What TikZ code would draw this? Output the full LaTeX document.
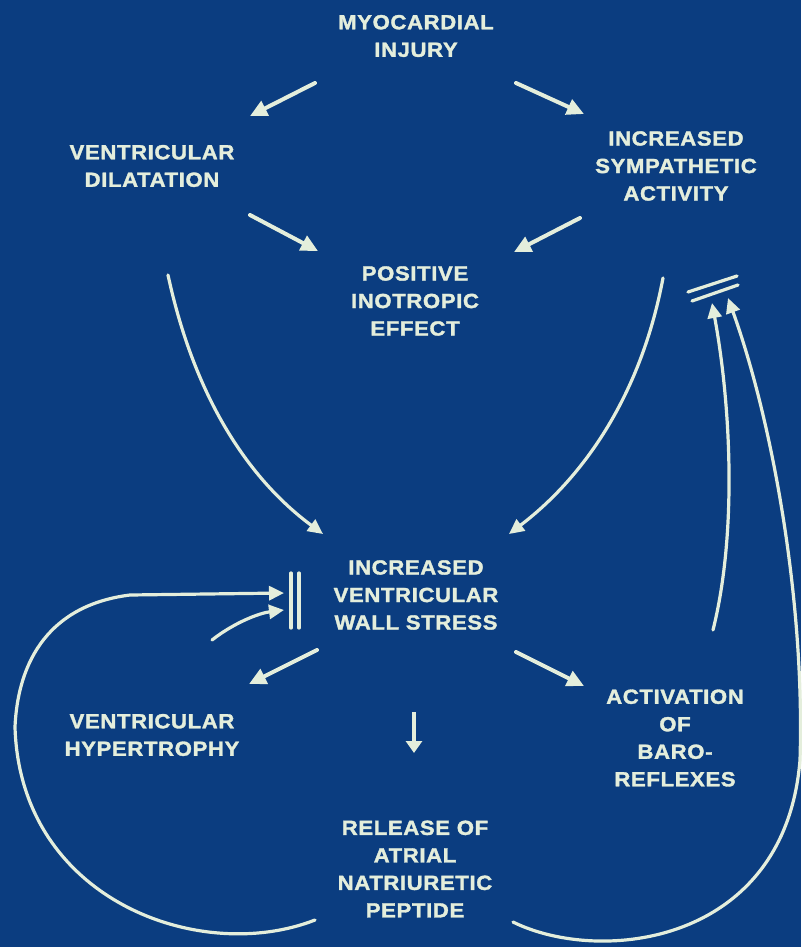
\documentclass[tikz,border=0pt]{standalone}
\usepackage{fontspec}
\setmainfont{Liberation Sans}[FakeStretch=1.08,LetterSpace=3,BoldFeatures={FakeBold=1.6}]
\usetikzlibrary{arrows.meta}
\definecolor{bgblue}{HTML}{0B3D80}
\definecolor{chalk}{HTML}{E4EEDC}
\tikzset{
  lbl/.style={text=chalk,font=\bfseries\fontsize{20.5}{27.5}\selectfont,align=center,inner sep=0pt},
  arr/.style={draw=chalk,line width=4pt,line cap=round,-{Triangle[length=17pt,width=16pt]}},
  curv/.style={draw=chalk,line width=3.2pt,line cap=round,-{Triangle[length=15pt,width=14pt]}},
  bar/.style={draw=chalk,line width=3.2pt,line cap=round}
}
\begin{document}
\begin{tikzpicture}[x=1pt,y=-1pt]
\fill[bgblue] (0,0) rectangle (801,947);
\useasboundingbox (0,0) rectangle (801,947);

% nodes
\node[lbl] (mi)   at (416,36)  {MYOCARDIAL\\INJURY};
\node[lbl] (vd)   at (152,166) {VENTRICULAR\\DILATATION};
\node[lbl] (isa)  at (676,166) {INCREASED\\SYMPATHETIC\\ACTIVITY};
\node[lbl] (pie)  at (415,301) {POSITIVE\\INOTROPIC\\EFFECT};
\node[lbl] (ivws) at (416,595) {INCREASED\\VENTRICULAR\\WALL STRESS};
\node[lbl] (vh)   at (152,735) {VENTRICULAR\\HYPERTROPHY};
\node[lbl] (act)  at (675,738) {ACTIVATION\\OF\\BARO-\\REFLEXES};
\node[lbl] (anp)  at (415,869) {RELEASE OF\\ATRIAL\\NATRIURETIC\\PEPTIDE};

% connector end points
\coordinate (miL) at (315,83);  \coordinate (vdT) at (250,116);
\coordinate (miR) at (516,83);  \coordinate (isaT) at (584,114);
\coordinate (vdB) at (250,215); \coordinate (pieL) at (318,251);
\coordinate (isaB) at (580,218);\coordinate (pieR) at (514,252);
\coordinate (vdC) at (168,275); \coordinate (ivwsL) at (323,534);
\coordinate (isaC) at (663,278);\coordinate (ivwsR) at (509,534);
\coordinate (ivwsBL) at (317,650); \coordinate (vhT) at (249,684);
\coordinate (ivwsBR) at (516,652); \coordinate (actT) at (584,686);
\coordinate (ivwsB) at (414,712); \coordinate (anpT) at (414,753);
\coordinate (actU) at (713,630); \coordinate (blk1) at (712,303);
\coordinate (anpR) at (513,922); \coordinate (blk2) at (728,298);
\coordinate (anpL) at (315,920); \coordinate (stop1) at (284,593);
\coordinate (vhU) at (212,640);  \coordinate (stop2) at (284,610);

% straight arrows
\draw[arr] (miL) -- (vdT);
\draw[arr] (miR) -- (isaT);
\draw[arr] (vdB) -- (pieL);
\draw[arr] (isaB) -- (pieR);
\draw[arr] (ivwsBL) -- (vhT);
\draw[arr] (ivwsBR) -- (actT);
\draw[draw=chalk,line width=4.5pt,-{Triangle[length=12pt,width=16pt]}] (ivwsB) -- (anpT);

% long curves to wall stress
\draw[curv] (vdC) .. controls (195,400) and (250,480) .. (ivwsL);
\draw[curv] (isaC) .. controls (640,400) and (580,480) .. (ivwsR);

% feedback to sympathetic activity
\draw[curv] (actU) .. controls (738,530) and (730,400) .. (blk1);
\draw[curv] (anpR) .. controls (600,965) and (785,945) .. (800,760)
               .. controls (805,600) and (772,420) .. (blk2);
\draw[bar] (688,292) -- (737,276);
\draw[bar] (692,301) -- (738,285);

% feedback to wall stress
\draw[curv] (anpL) .. controls (200,965) and (20,900) .. (15,727)
               .. controls (18,660) and (50,605) .. (130,595) -- (stop1);
\draw[curv] (vhU) .. controls (235,622) and (260,613) .. (stop2);
\draw[bar] (291,573) -- (291,628);
\draw[bar] (299,573) -- (299,628);
\end{tikzpicture}
\end{document}
